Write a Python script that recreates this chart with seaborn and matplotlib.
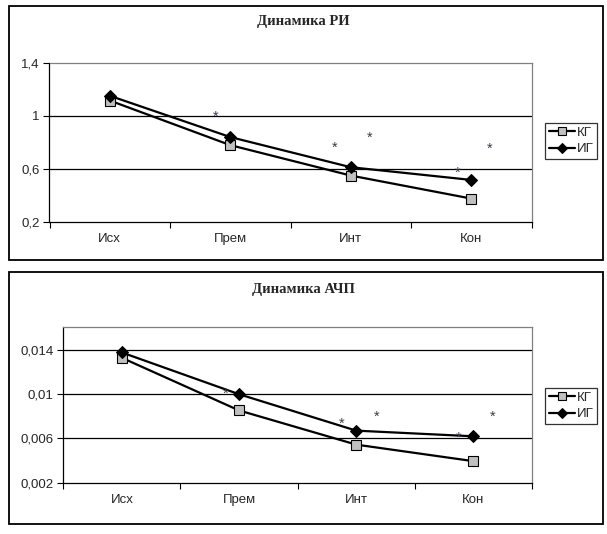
from matplotlib import pyplot as plt
from matplotlib.patches import Rectangle
from matplotlib.ticker import FixedLocator
import pandas as pd
import seaborn as sns

# Data
stages = ['Исх', 'Прем', 'Инт', 'Кон']
groups = ['КГ', 'ИГ']

ri_kg = [1.114, 0.777, 0.547, 0.373]
ri_ig = [1.150, 0.838, 0.610, 0.514]
ri_ticks = [0.2, 0.6, 1.0, 1.4]
ri_tick_labels = ['0,2', '0,6', '1', '1,4']

achp_kg = [0.01325, 0.00851, 0.00543, 0.00394]
achp_ig = [0.01373, 0.00997, 0.00669, 0.00618]
achp_ticks = [0.002, 0.006, 0.010, 0.014]
achp_tick_labels = ['0,002', '0,006', '0,01', '0,014']

# significance stars (category position, value)
ri_star_x = [0.88, 1.865, 2.157, 2.884, 3.15]
ri_star_y = [0.994, 0.756, 0.83, 0.57, 0.749]
achp_star_x = [0.886, 1.878, 2.17, 2.87, 3.166]
achp_star_y = [0.0100, 0.00728, 0.00797, 0.00603, 0.00797]

sns.set_style('white')
plt.rcParams['font.family'] = ['Liberation Sans', 'DejaVu Sans']

W, H = 607, 534
fig = plt.figure(figsize=(W / 100, H / 100), dpi=100)


def px_box(left, top, right, bottom):
    return [left / W, 1 - bottom / H, (right - left) / W, (bottom - top) / H]


# outer frames of the two charts
for top, bottom in [(6, 260), (271.5, 524)]:
    fig.patches.append(Rectangle((9 / W, 1 - bottom / H), (603 - 9) / W,
                                 (bottom - top) / H, transform=fig.transFigure,
                                 fill=False, edgecolor='black', linewidth=1.3))


def draw_panel(box, title, title_y, kg, ig, ylim, ticks, tick_labels,
               star_x, star_y, legend_box):
    ax = fig.add_axes(px_box(*box))
    df = pd.DataFrame({'stage': stages * 2,
                       'value': kg + ig,
                       'group': [groups[0]] * 4 + [groups[1]] * 4})
    sns.lineplot(data=df[df['group'] == 'КГ'], x='stage', y='value', ax=ax,
                 color='black', linewidth=1.6, marker='s', markersize=7,
                 markerfacecolor='#c0c0c0', markeredgecolor='black',
                 markeredgewidth=0.8, label='КГ', legend=False)
    sns.lineplot(data=df[df['group'] == 'ИГ'], x='stage', y='value', ax=ax,
                 color='black', linewidth=1.6, marker='D', markersize=6,
                 markerfacecolor='black', markeredgecolor='black',
                 label='ИГ', legend=False)
    for sx, sy in zip(star_x, star_y):
        ax.text(sx, sy, '*', ha='center', va='center', fontsize=10.5,
                color='#3a3a4a')

    ax.set_xlim(-0.5, 3.5)
    ax.set_ylim(*ylim)
    ax.set_xlabel('')
    ax.set_ylabel('')
    ax.set_yticks(ticks)
    ax.set_yticklabels(tick_labels, fontsize=9.5)
    ax.set_xticks(range(4))
    ax.set_xticklabels(stages, fontsize=9.5)
    ax.xaxis.set_minor_locator(FixedLocator([-0.5, 0.5, 1.5, 2.5, 3.5]))
    ax.tick_params(axis='x', which='major', length=0, pad=8)
    ax.tick_params(axis='x', which='minor', length=4, width=0.8,
                   direction='out', color='black', bottom=True)
    ax.tick_params(axis='y', length=4, width=0.8, direction='out',
                   color='black', left=True, pad=3)
    for t in ticks[1:]:
        if t < ylim[1]:
            ax.axhline(t, color='black', linewidth=0.9, zorder=0.5)
    for side in ['left', 'bottom']:
        ax.spines[side].set_color('black')
        ax.spines[side].set_linewidth(0.9)
    for side in ['top', 'right']:
        ax.spines[side].set_color('#808080')
        ax.spines[side].set_linewidth(0.9)

    fig.text(303 / W, 1 - title_y / H, title, ha='center', va='center',
             fontsize=10.5, fontweight='bold', family='Liberation Serif')

    handles, labels = ax.get_legend_handles_labels()
    leg = fig.legend(handles, labels, loc='center',
                     bbox_to_anchor=((legend_box[0] + legend_box[2]) / 2 / W,
                                     1 - (legend_box[1] + legend_box[3]) / 2 / H),
                     frameon=True, fancybox=False, fontsize=9.5,
                     handlelength=2.0, handletextpad=0.1, borderpad=0.3,
                     labelspacing=0.3, borderaxespad=0, markerscale=0.8)
    leg.get_frame().set_edgecolor('black')
    leg.get_frame().set_linewidth(0.9)
    return ax


draw_panel((49.5, 62.7, 531.7, 221.5), 'Динамика РИ', 22,
           ri_kg, ri_ig, (0.2, 1.4), ri_ticks, ri_tick_labels,
           ri_star_x, ri_star_y, (543, 119, 599, 163))

draw_panel((63.3, 327.3, 532, 482.7), 'Динамика АЧП', 289,
           achp_kg, achp_ig, (0.002, 0.016), achp_ticks, achp_tick_labels,
           achp_star_x, achp_star_y, (543, 385, 599, 427))

fig.savefig('out.png', dpi=100)
